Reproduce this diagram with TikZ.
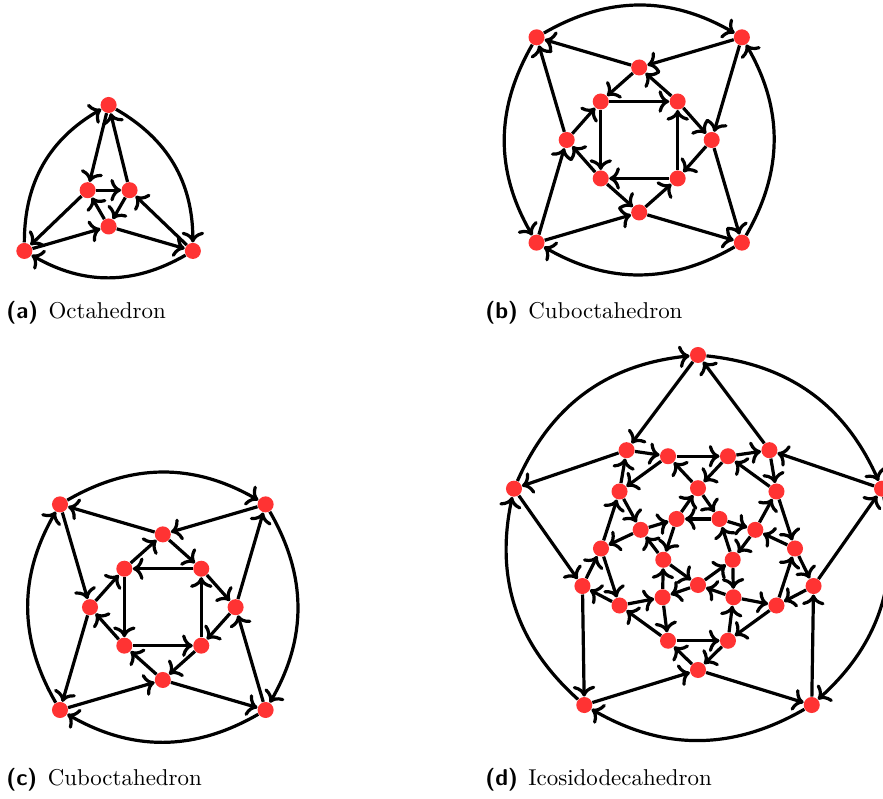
\documentclass[tikz,border=0pt]{standalone}
\usetikzlibrary{arrows.meta}
\definecolor{vertexred}{RGB}{255,51,51}

\begin{document}
\begin{tikzpicture}[x=0.4367pt, y=0.4367pt,
    vertex/.style={circle, fill=vertexred, inner sep=0pt, minimum size=7pt},
    every edge/.style={draw=black, line width=1.4pt, ->}]
  \useasboundingbox (0,0) rectangle (883,799);

  % (a) octahedron
  \begin{scope}[shift={(108.6,596.7)}, every node/.style=vertex]
    \node (aT) at (90:97.3) {};
    \node (aL) at (210:97.3) {};
    \node (aR) at (330:97.3) {};
    \node (iL) at (150:24.2) {};
    \node (iR) at (30:24.2) {};
    \node (iB) at (270:24.2) {};
  \end{scope}
  \path (aL) edge[bend left=30] (aT);
  \path (aT) edge[bend left=30] (aR);
  \path (aR) edge[bend left=30] (aL);
  \path (aT) edge (iL);
  \path (iR) edge (aT);
  \path (iL) edge (iR);
  \path (iR) edge (iB);
  \path (iB) edge (iL);
  \path (iL) edge (aL);
  \path (aL) edge (iB);
  \path (iB) edge (aR);
  \path (aR) edge (iR);

  % (b) cuboctahedron
  \begin{scope}[shift={(639.2,659)}, every node/.style=vertex]
    \node (bo1) at (135:145.2) {};
    \node (bo2) at (45:145.2) {};
    \node (bo3) at (315:145.2) {};
    \node (bo4) at (225:145.2) {};
    \node (bd1) at (90:72.5) {};
    \node (bd2) at (0:72.5) {};
    \node (bd3) at (270:72.5) {};
    \node (bd4) at (180:72.5) {};
    \node (bq1) at (135:54.4) {};
    \node (bq2) at (45:54.4) {};
    \node (bq3) at (315:54.4) {};
    \node (bq4) at (225:54.4) {};
  \end{scope}
  \path (bo1) edge[bend left=30] (bo2);
  \path (bo3) edge[bend right=30] (bo2);
  \path (bo1) edge[bend right=30] (bo4);
  \path (bo3) edge[bend left=30] (bo4);
  \path (bd1) edge (bo1);
  \path (bd4) edge (bo1);
  \path (bo2) edge (bd1);
  \path (bo2) edge (bd2);
  \path (bd2) edge (bo3);
  \path (bd3) edge (bo3);
  \path (bo4) edge (bd4);
  \path (bo4) edge (bd3);
  \path (bd1) edge (bq1);
  \path (bq2) edge (bd1);
  \path (bq2) edge (bd2);
  \path (bd2) edge (bq3);
  \path (bd3) edge (bq3);
  \path (bq4) edge (bd3);
  \path (bd4) edge (bq1);
  \path (bq4) edge (bd4);
  \path (bq1) edge (bq2);
  \path (bq1) edge (bq4);
  \path (bq3) edge (bq2);
  \path (bq3) edge (bq4);

  % (c) cuboctahedron
  \begin{scope}[shift={(162.8,191.8)}, every node/.style=vertex]
    \node (co1) at (135:145.4) {};
    \node (co2) at (45:145.4) {};
    \node (co3) at (315:145.4) {};
    \node (co4) at (225:145.4) {};
    \node (cd1) at (90:72.8) {};
    \node (cd2) at (0:72.8) {};
    \node (cd3) at (270:72.8) {};
    \node (cd4) at (180:72.8) {};
    \node (cq1) at (135:54.4) {};
    \node (cq2) at (45:54.4) {};
    \node (cq3) at (315:54.4) {};
    \node (cq4) at (225:54.4) {};
  \end{scope}
  \path (co1) edge[bend left=30] (co2);
  \path (co2) edge[bend left=30] (co3);
  \path (co3) edge[bend left=30] (co4);
  \path (co4) edge[bend left=30] (co1);
  \path (co2) edge (cd1);
  \path (cd1) edge (co1);
  \path (co1) edge (cd4);
  \path (cd4) edge (co4);
  \path (co4) edge (cd3);
  \path (cd3) edge (co3);
  \path (co3) edge (cd2);
  \path (cd2) edge (co2);
  \path (cd1) edge (cq2);
  \path (cq1) edge (cd1);
  \path (cq2) edge (cd2);
  \path (cd2) edge (cq3);
  \path (cq3) edge (cd3);
  \path (cd3) edge (cq4);
  \path (cq4) edge (cd4);
  \path (cd4) edge (cq1);
  \path (cq2) edge (cq1);
  \path (cq1) edge (cq4);
  \path (cq4) edge (cq3);
  \path (cq3) edge (cq2);

  % (d) icosidodecahedron
  \begin{scope}[shift={(698,250.5)}, every node/.style=vertex]
    \node (o90) at (90:193.5) {};
    \node (o18) at (18:193.5) {};
    \node (o306) at (306:193.5) {};
    \node (o234) at (234:193.5) {};
    \node (o162) at (162:193.5) {};
    \node (f54) at (54:121.5) {};
    \node (f126) at (126:121.5) {};
    \node (f198) at (198:121.5) {};
    \node (f270) at (270:121.5) {};
    \node (f342) at (342:121.5) {};
    \node (q0) at (0:97) {};
    \node (q36) at (36:97) {};
    \node (q72) at (72:97) {};
    \node (q108) at (108:97) {};
    \node (q144) at (144:97) {};
    \node (q180) at (180:97) {};
    \node (q216) at (216:97) {};
    \node (q252) at (252:97) {};
    \node (q288) at (288:97) {};
    \node (q324) at (324:97) {};
    \node (t18) at (18:60.3) {};
    \node (t90) at (90:60.3) {};
    \node (t162) at (162:60.3) {};
    \node (t234) at (234:60.3) {};
    \node (t306) at (306:60.3) {};
    \node (p54) at (54:36.5) {};
    \node (p126) at (126:36.5) {};
    \node (p198) at (198:36.5) {};
    \node (p270) at (270:36.5) {};
    \node (p342) at (342:36.5) {};
  \end{scope}
  % outer triangles
  \path (o90) edge[bend left=30] (o18) (o18) edge (f54) (f54) edge (o90);
  \path (o18) edge[bend left=30] (o306) (o306) edge (f342) (f342) edge (o18);
  \path (o306) edge[bend left=30] (o234) (o234) edge (f270) (f270) edge (o306);
  \path (o234) edge[bend left=30] (o162) (o162) edge (f198) (f198) edge (o234);
  \path (o162) edge[bend left=30] (o90) (o90) edge (f126) (f126) edge (o162);
  % middle triangles
  \path (q72) edge (f54) (f54) edge (q36) (q36) edge (q72);
  \path (q144) edge (f126) (f126) edge (q108) (q108) edge (q144);
  \path (q216) edge (f198) (f198) edge (q180) (q180) edge (q216);
  \path (q288) edge (f270) (f270) edge (q252) (q252) edge (q288);
  \path (q0) edge (f342) (f342) edge (q324) (q324) edge (q0);
  \path (t18) edge (q36) (q36) edge (q0) (q0) edge (t18);
  \path (t90) edge (q108) (q108) edge (q72) (q72) edge (t90);
  \path (t162) edge (q180) (q180) edge (q144) (q144) edge (t162);
  \path (t234) edge (q252) (q252) edge (q216) (q216) edge (t234);
  \path (t306) edge (q324) (q324) edge (q288) (q288) edge (t306);
  % inner triangles
  \path (p54) edge (t18) (t18) edge (p342) (p342) edge (p54);
  \path (p126) edge (t90) (t90) edge (p54) (p54) edge (p126);
  \path (p198) edge (t162) (t162) edge (p126) (p126) edge (p198);
  \path (p270) edge (t234) (t234) edge (p198) (p198) edge (p270);
  \path (p342) edge (t306) (t306) edge (p270) (p270) edge (p342);

  % captions
  \node[anchor=base west, inner sep=0pt] (capa) at (6,480) {\textsf{\textbf{(a)}}\hspace{4.6pt}Octahedron};
  \node[anchor=base west, inner sep=0pt] (capb) at (485,480) {\textsf{\textbf{(b)}}\hspace{4.6pt}Cuboctahedron};
  \node[anchor=base west, inner sep=0pt] (capc) at (6,13) {\textsf{\textbf{(c)}}\hspace{4.6pt}Cuboctahedron};
  \node[anchor=base west, inner sep=0pt] (capd) at (485,13) {\textsf{\textbf{(d)}}\hspace{4.6pt}Icosidodecahedron};
\end{tikzpicture}
\end{document}
